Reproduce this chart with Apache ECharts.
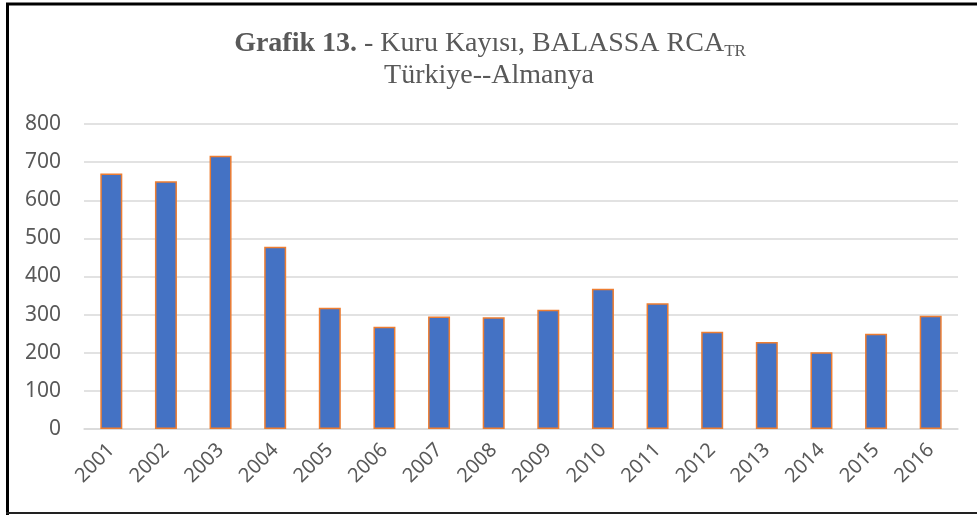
<!DOCTYPE html>
<html>
<head>
<meta charset="utf-8">
<script src="https://cdn.jsdelivr.net/npm/echarts@6/dist/echarts.min.js"></script>
<style type="text/css">
html, body{margin: 0; padding: 0; background: #fff;}
#chart{width: 977px; height: 515px;}
</style>
</head>
<body>
<div id="chart"></div>
<script>
// veriler
var years = ['2001','2002','2003','2004','2005','2006','2007','2008','2009','2010','2011','2012','2013','2014','2015','2016'];
var rcaValues = [670, 650, 717, 478, 318, 268, 295, 293, 313, 368, 330, 255, 228, 201, 250, 297];
var yTicks = [0, 800, 100]; // min, max, interval

var myChart = echarts.init(document.getElementById('chart'));
var tf = '"Liberation Serif"';
var options = {
    backgroundColor: '#fff',
    animation: false,
    grid: {left: 84, right: 19, top: 124, bottom: 86},
    xAxis: {
        type: 'category',
        data: years,
        axisLine: {show: true, lineStyle: {color: '#d9d9d9', width: 1.5}},
        axisTick: {show: false},
        axisLabel: {rotate: 45, color: '#595959', fontSize: 20, fontFamily: 'Noto Sans', margin: 18, interval: 0}
    },
    yAxis: {
        type: 'value',
        min: yTicks[0],
        max: yTicks[1],
        interval: yTicks[2],
        axisLine: {show: false},
        axisTick: {show: false},
        splitLine: {lineStyle: {color: '#d9d9d9', width: 1.5}},
        axisLabel: {color: '#595959', fontSize: 21, fontFamily: 'Noto Sans', margin: 23}
    },
    series: [{
        type: 'bar',
        data: rcaValues,
        barWidth: 22,
        itemStyle: {color: '#4472C4', borderColor: '#ED7D31', borderWidth: 1.5}
    }],
    graphic: [
        // başlık
        {
            type: 'text', x: 490, y: 44,
            style: {
                text: '{b|Grafik 13.}{n| - Kuru Kayısı, BALASSA RCA}{s|TR}',
                align: 'center', verticalAlign: 'middle',
                fill: '#595959',
                font: '28px ' + tf,
                rich: {
                    b: {font: 'bold 28px ' + tf, fill: '#595959', lineHeight: 34},
                    n: {font: '28px ' + tf, fill: '#595959', lineHeight: 34},
                    s: {font: '17px ' + tf, fill: '#595959', lineHeight: 34, padding: [16, 0, 0, 0]}
                }
            }
        },
        {
            type: 'text', x: 489, y: 76,
            style: {text: 'Türkiye--Almanya', align: 'center', verticalAlign: 'middle', fill: '#595959', font: '28px ' + tf}
        },
        // çerçeve
        {type: 'line', shape: {x1: 6, y1: 4, x2: 977, y2: 4}, style: {stroke: '#000', lineWidth: 3}},
        {type: 'line', shape: {x1: 7.5, y1: 3, x2: 7.5, y2: 515}, style: {stroke: '#000', lineWidth: 3}},
        {type: 'line', shape: {x1: 6, y1: 513, x2: 977, y2: 513}, style: {stroke: '#222', lineWidth: 2}}
    ]
};
myChart.setOption(options);
</script>
</body>
</html>
